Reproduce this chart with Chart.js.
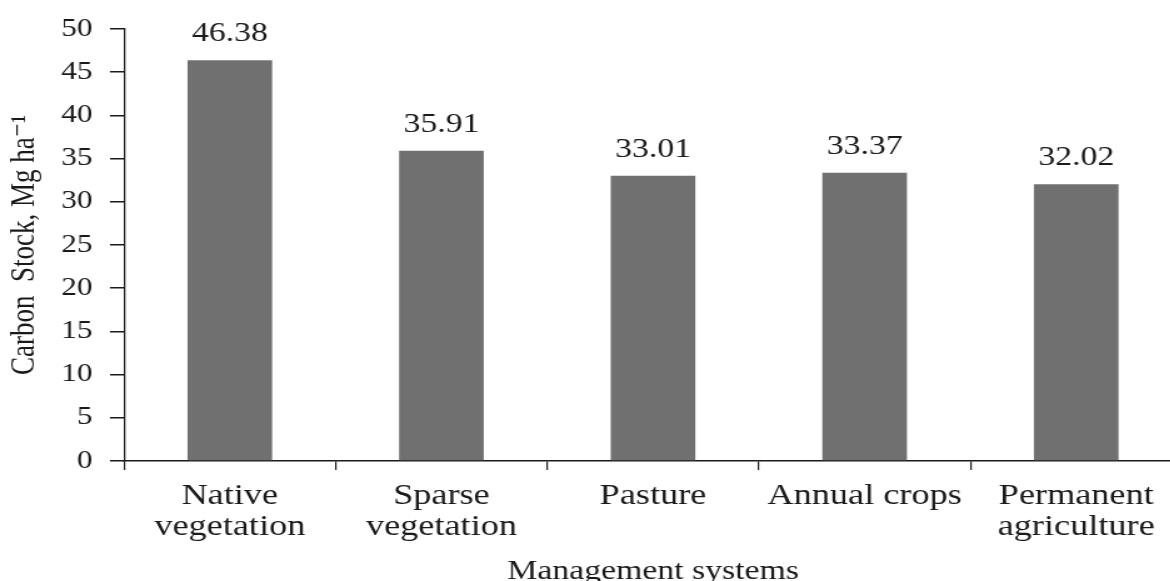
<!DOCTYPE html>
<html>
<head>
<meta charset="utf-8">
<title>Carbon Stock by Management System</title>
<script src="https://cdn.jsdelivr.net/npm/chart.js@4/dist/chart.umd.min.js"></script>
<style>
  html, body { margin: 0; padding: 0; background: #fff; overflow: hidden; }
  #chartCanvas { display: block; }
</style>
</head>
<body>
<!-- canvas is drawn narrow and stretched sideways, the reference picture is widened -->
<canvas id="chartCanvas" width="947" height="581" style="width:1184px;height:581px"></canvas>
<script>
// ==========================================
// 📊 data
// ==========================================
const categories = [
  ['Native', 'vegetation'],
  ['Sparse', 'vegetation'],
  ['Pasture'],
  ['Annual crops'],
  ['Permanent', 'agriculture']
];
const carbonStock = [46.38, 35.91, 33.01, 33.37, 32.02];
const yTicks = [0, 5, 10, 15, 20, 25, 30, 35, 40, 45, 50];

const serif = "'Liberation Serif', 'Times New Roman', 'DejaVu Serif', serif";
const ink = '#1a1a1a';

// value labels on top of each bar
const barValuePlugin = {
  id: 'barValues',
  afterDatasetsDraw(chart) {
    const ctx = chart.ctx;
    const meta = chart.getDatasetMeta(0);
    ctx.save();
    ctx.font = `27px ${serif}`;
    ctx.fillStyle = ink;
    ctx.textAlign = 'center';
    ctx.textBaseline = 'alphabetic';
    meta.data.forEach((bar, i) => {
      ctx.fillText(carbonStock[i].toFixed(2), bar.x, bar.y - 19);
    });
    ctx.restore();
  }
};

const ctx = document.getElementById('chartCanvas').getContext('2d');
new Chart(ctx, {
  type: 'bar',
  data: {
    labels: categories,
    datasets: [{
      label: 'Carbon Stock',
      data: carbonStock,
      backgroundColor: '#707070',
      borderWidth: 0,
      barPercentage: 0.4,
      categoryPercentage: 1.0
    }]
  },
  options: {
    responsive: false,
    animation: false,
    devicePixelRatio: 1,
    layout: { padding: { top: 24, right: 1.6, bottom: 0, left: 0 } },
    plugins: { legend: { display: false }, tooltip: { enabled: false } },
    scales: {
      x: {
        offset: true,
        grid: { display: true, offset: true, drawOnChartArea: false, drawTicks: true, tickLength: 9, color: ink, lineWidth: 1.2 },
        border: { display: true, color: ink, width: 1.5 },
        ticks: { color: ink, font: { family: serif, size: 29, lineHeight: 1.1 }, padding: 10, maxRotation: 0, autoSkip: false },
        title: { display: true, text: 'Management systems', color: ink, font: { family: serif, size: 27 }, padding: { top: 0, bottom: -7 } },
        afterFit(scale) { scale.height = 120; }
      },
      y: {
        min: 0,
        max: 50,
        afterBuildTicks(scale) { scale.ticks = yTicks.map(v => ({ value: v })); },
        grid: { display: true, drawOnChartArea: false, drawTicks: true, tickLength: 11.2, color: ink, lineWidth: 1.5 },
        border: { display: true, color: ink, width: 1.3 },
        ticks: { color: ink, font: { family: serif, size: 25 }, padding: 14 },
        title: { display: true, text: 'Carbon  Stock, Mg ha⁻¹', color: ink, font: { family: serif, size: 27 }, padding: { top: 4, bottom: 0 } },
        afterFit(scale) { scale.width = 99.2; }
      }
    }
  },
  plugins: [barValuePlugin]
});
</script>
</body>
</html>
